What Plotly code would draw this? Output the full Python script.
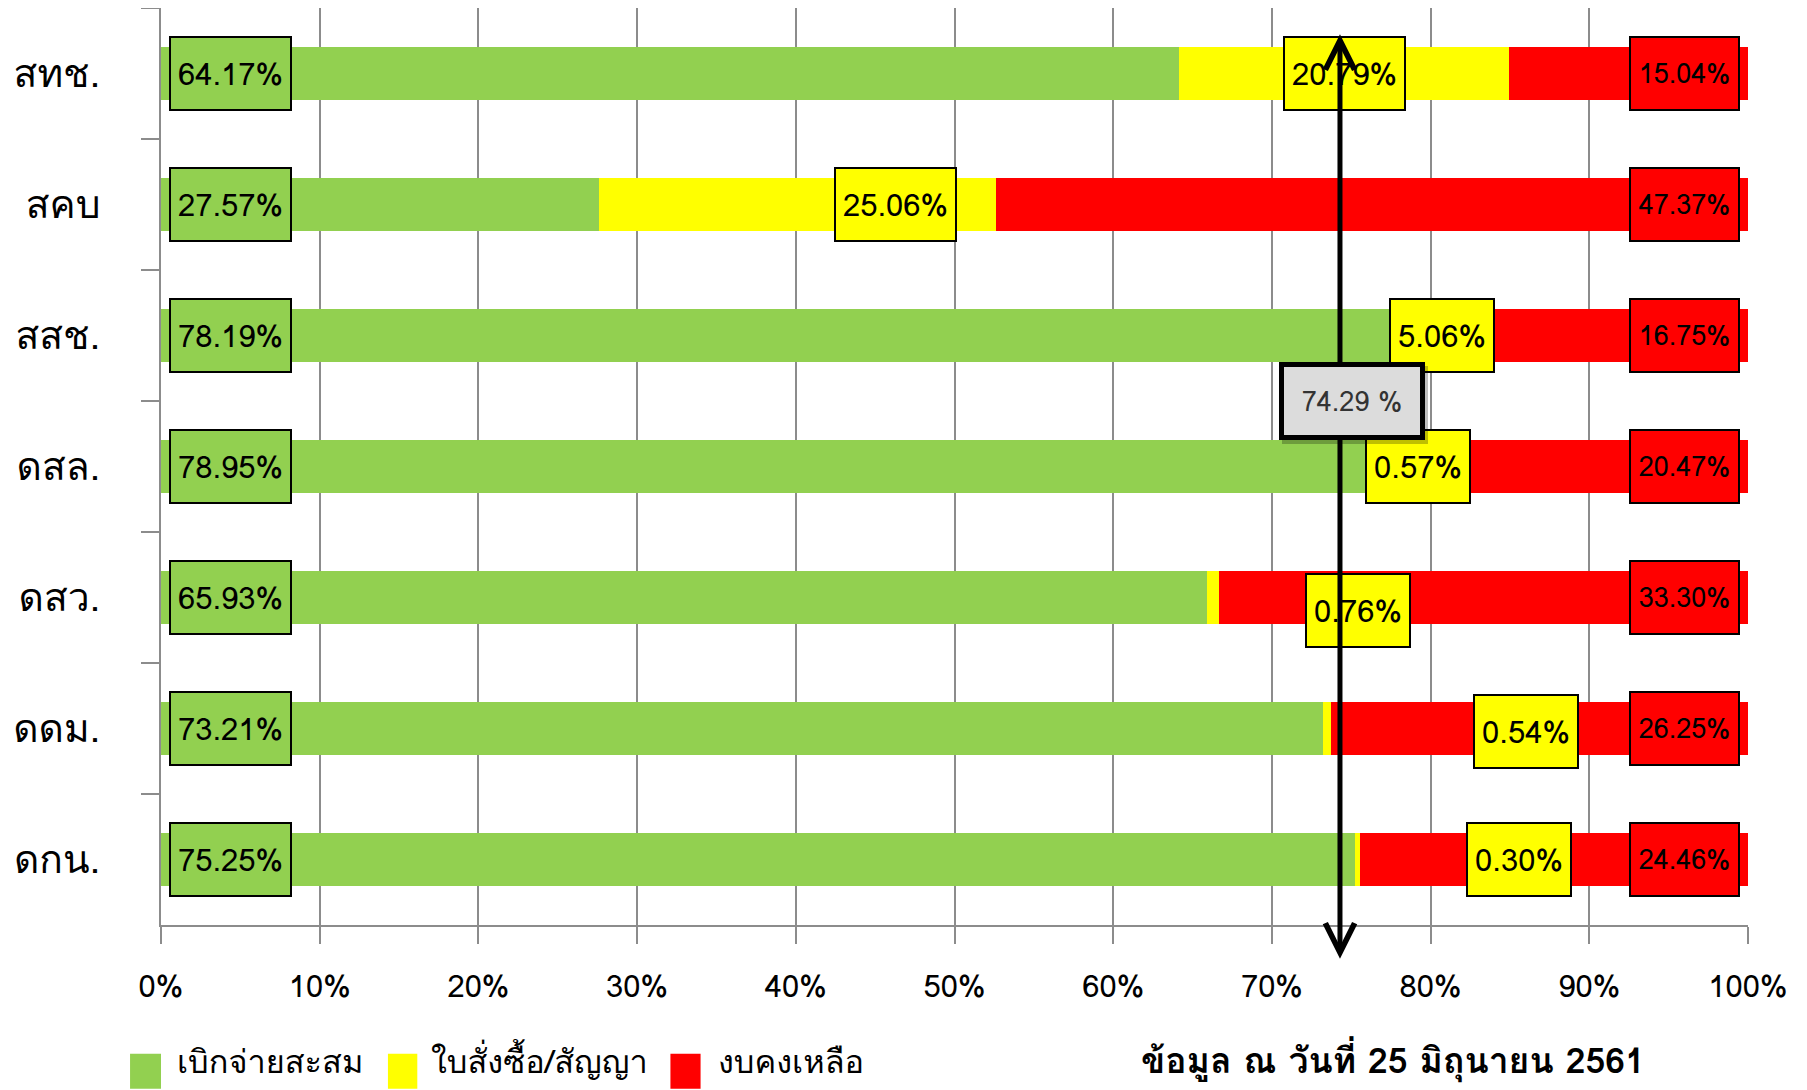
import plotly.graph_objects as go

categories = ["สทช.", "สคบ", "สสช.", "ดสล.", "ดสว.", "ดดม.", "ดกน."]
disbursed = [64.17, 27.57, 78.19, 78.95, 65.93, 73.21, 75.25]
committed = [20.79, 25.06, 5.06, 0.57, 0.76, 0.54, 0.30]
remaining = [15.04, 47.37, 16.75, 20.47, 33.30, 26.25, 24.46]
series_names = ["เบิกจ่ายสะสม", "ใบสั่งซื้อ/สัญญา", "งบคงเหลือ"]
x_ticks = [0, 10, 20, 30, 40, 50, 60, 70, 80, 90, 100]
target = 74.29
date_note = "ข้อมูล ณ วันที่ 25 มิถุนายน 2561"

# layout/style (positions of the label boxes)
colors = ["#92D050", "#FFFF00", "#FF0000"]
green_label_x = 4.35
red_label_x = 96.0
yellow_label_x = [74.6, 46.3, 80.7, 79.2, 75.4, 86.0, 85.55]
yellow_label_dy = [0, 0, 0, 0, 0.1, 0.02, 0]

FONT = "Tahoma, Loma, Garuda, 'Noto Sans Thai', 'Liberation Sans', sans-serif"

fig = go.Figure()
for name, vals, col in zip(series_names, [disbursed, committed, remaining], colors):
    fig.add_trace(go.Bar(y=categories, x=vals, name=name, orientation="h",
                         marker=dict(color=col, line=dict(width=0)), showlegend=False))

annotations = []
for i, c in enumerate(categories):
    annotations.append(dict(x=green_label_x, y=i, xref="x", yref="y", text=f"{disbursed[i]:.2f}%",
                            showarrow=False, bgcolor=colors[0], bordercolor="black", borderwidth=2,
                            width=117, height=69, font=dict(size=31, color="black", family=FONT)))
    ytxt = f"{committed[i]:.2f}%"
    annotations.append(dict(x=yellow_label_x[i], y=i + yellow_label_dy[i], xref="x", yref="y",
                            text=ytxt,
                            showarrow=False, bgcolor=colors[1], bordercolor="black", borderwidth=2,
                            width=117 if committed[i] >= 10 else 100, height=69,
                            font=dict(size=31, color="black", family=FONT)))
    annotations.append(dict(x=red_label_x, y=i, xref="x", yref="y", text=f"{remaining[i]:.2f}%",
                            showarrow=False, bgcolor=colors[2], bordercolor="black", borderwidth=2,
                            width=105, height=69, font=dict(size=27, color="black", family=FONT)))

# double-headed arrow at the average
annotations.append(dict(x=target, y=-0.3, xref="x", yref="y", ax=target, ay=6.77,
                        axref="x", ayref="y", text="", showarrow=True,
                        arrowhead=5, startarrowhead=5, arrowside="end+start",
                        arrowwidth=5, arrowsize=1.15, startarrowsize=1.15, arrowcolor="black",
                        standoff=0, startstandoff=0))
# callout shadow + box
annotations.append(dict(x=target + 0.95, y=2.53, xref="x", yref="y", text="",
                        showarrow=False, bgcolor="rgba(0,0,0,0.25)", borderwidth=0,
                        width=144, height=76))
annotations.append(dict(x=target + 0.75, y=2.5, xref="x", yref="y", text=f"{target:.2f} %",
                        showarrow=False, bgcolor="#dcdcdc", bordercolor="black", borderwidth=5,
                        width=134, height=66, font=dict(size=27, color="#333333", family=FONT)))

# legend (manual)
leg_sq = [(-0.0195, 0.0), (0.143, 0.1615), (0.321, 0.340)]
leg_tx = [0.009, 0.169, 0.350]
shapes = []
for (x0, x1), col in zip(leg_sq, colors):
    shapes.append(dict(type="rect", xref="paper", yref="paper", x0=x0, x1=x1,
                       y0=-0.1405, y1=-0.1786, fillcolor=col, line=dict(width=0)))
for tx, name in zip(leg_tx, series_names):
    annotations.append(dict(x=tx, y=-0.149, xref="paper", yref="paper", text=name,
                            showarrow=False, xanchor="left", yanchor="middle",
                            font=dict(size=32.5, color="black", family=FONT)))
annotations.append(dict(x=0.776, y=-0.148, xref="paper", yref="paper", text=f"<b>{date_note}</b>",
                        showarrow=False, xanchor="center", yanchor="middle",
                        font=dict(size=35.5, color="black", family=FONT)))

# the page body adds an 8px offset; figure is sized/margined to compensate
fig.update_layout(
    annotations=annotations,
    shapes=shapes,
    barmode="stack",
    bargap=0.6,
    width=1799, height=1082,
    margin=dict(l=153, r=59, t=0, b=165),
    plot_bgcolor="white", paper_bgcolor="white",
    xaxis=dict(range=[0, 100], tickvals=x_ticks, ticktext=[f"{v}%" for v in x_ticks],
               showgrid=True, gridcolor="#8c8c8c", gridwidth=1.5,
               showline=True, linecolor="#8c8c8c", linewidth=1.5,
               ticks="outside", ticklen=17, tickcolor="#8c8c8c", tickwidth=1.5,
               ticklabelstandoff=16, automargin=False,
               tickfont=dict(size=31, color="black", family=FONT), zeroline=False),
    yaxis=dict(categoryorder="array", categoryarray=categories, range=[6.5, -0.5],
               showline=True, linecolor="#8c8c8c", linewidth=1.5, showgrid=False,
               ticks="outside", ticklen=18, tickcolor="#8c8c8c", tickwidth=1.5,
               tickson="boundaries", ticklabelstandoff=51, automargin=False,
               tickfont=dict(size=39, color="black", family=FONT)),
)

fig.write_html("out.html")
